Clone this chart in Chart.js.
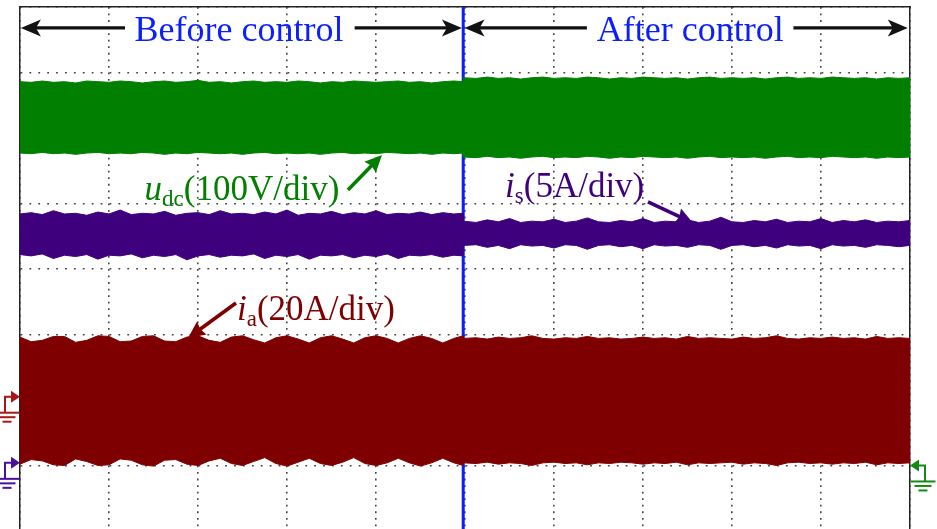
<!DOCTYPE html>
<html>
<head>
<meta charset="utf-8">
<title>Before / after control</title>
<script src="https://cdn.jsdelivr.net/npm/chart.js@4.4.1/dist/chart.umd.min.js"></script>
<style>
  html, body { margin: 0; padding: 0; background: #fff; overflow: hidden; }
  canvas { display: block; }
</style>
</head>
<body>
<canvas id="scope" width="937" height="529"></canvas>
<script>
// time axis in scope divisions (10 div across), value axis in divisions (8 div, 0 = centre)
const controlInstant = 4.98;

const timeBefore = [0, 0.125, 0.25, 0.375, 0.5, 0.625, 0.75, 0.875, 1, 1.125,
  1.25, 1.375, 1.5, 1.625, 1.75, 1.875, 2, 2.125, 2.25, 2.375,
  2.5, 2.625, 2.75, 2.875, 3, 3.125, 3.25, 3.375, 3.5, 3.625,
  3.75, 3.875, 4, 4.125, 4.25, 4.375, 4.5, 4.625, 4.75, 4.875, 4.98];
const timeAfter = [4.98, 5.125, 5.25, 5.375, 5.5, 5.625, 5.75, 5.875, 6, 6.125,
  6.25, 6.375, 6.5, 6.625, 6.75, 6.875, 7, 7.125, 7.25, 7.375,
  7.5, 7.625, 7.75, 7.875, 8, 8.125, 8.25, 8.375, 8.5, 8.625,
  8.75, 8.875, 9, 9.125, 9.25, 9.375, 9.5, 9.625, 9.75, 9.875, 10];

// u_dc envelope (100V/div)
const udcTopBefore = [2.86, 2.85, 2.87, 2.85, 2.86, 2.84, 2.87, 2.86, 2.85, 2.87,
  2.86, 2.84, 2.86, 2.87, 2.85, 2.86, 2.88, 2.85, 2.86, 2.84,
  2.86, 2.87, 2.85, 2.86, 2.85, 2.87, 2.86, 2.84, 2.86, 2.85,
  2.87, 2.86, 2.85, 2.86, 2.87, 2.85, 2.86, 2.84, 2.86, 2.87, 2.86];
const udcBotBefore = [1.77, 1.76, 1.78, 1.76, 1.77, 1.75, 1.77, 1.78, 1.76, 1.77,
  1.76, 1.78, 1.77, 1.75, 1.77, 1.76, 1.78, 1.77, 1.76, 1.77,
  1.75, 1.77, 1.78, 1.76, 1.77, 1.76, 1.77, 1.75, 1.77, 1.78,
  1.76, 1.77, 1.76, 1.78, 1.77, 1.76, 1.77, 1.75, 1.77, 1.76, 1.77];
const udcTopAfter = [2.92, 2.91, 2.93, 2.91, 2.92, 2.90, 2.92, 2.93, 2.91, 2.92,
  2.91, 2.93, 2.92, 2.90, 2.92, 2.91, 2.93, 2.92, 2.91, 2.92,
  2.90, 2.92, 2.93, 2.91, 2.92, 2.91, 2.92, 2.90, 2.92, 2.93,
  2.91, 2.92, 2.91, 2.93, 2.92, 2.91, 2.92, 2.90, 2.92, 2.91, 2.92];
const udcBotAfter = [1.71, 1.70, 1.72, 1.70, 1.71, 1.69, 1.71, 1.72, 1.70, 1.71,
  1.70, 1.72, 1.71, 1.69, 1.71, 1.70, 1.72, 1.71, 1.70, 1.71,
  1.69, 1.71, 1.72, 1.70, 1.71, 1.70, 1.71, 1.69, 1.71, 1.72,
  1.70, 1.71, 1.70, 1.72, 1.71, 1.70, 1.71, 1.69, 1.71, 1.70, 1.71];

// i_s envelope (5A/div)
const isTopBefore = [0.84, 0.86, 0.83, 0.89, 0.84, 0.85, 0.82, 0.87, 0.84, 0.90,
  0.83, 0.85, 0.84, 0.88, 0.82, 0.85, 0.86, 0.83, 0.89, 0.84,
  0.85, 0.83, 0.87, 0.84, 0.90, 0.82, 0.85, 0.84, 0.88, 0.83,
  0.86, 0.84, 0.89, 0.83, 0.85, 0.84, 0.87, 0.83, 0.86, 0.84, 0.85];
const isBotBefore = [0.22, 0.20, 0.23, 0.16, 0.21, 0.19, 0.22, 0.15, 0.21, 0.20,
  0.23, 0.17, 0.21, 0.19, 0.22, 0.14, 0.20, 0.22, 0.18, 0.21,
  0.20, 0.23, 0.16, 0.21, 0.19, 0.22, 0.15, 0.21, 0.20, 0.22,
  0.17, 0.21, 0.19, 0.23, 0.16, 0.21, 0.20, 0.22, 0.18, 0.21, 0.20];
const isTopAfter = [0.73, 0.71, 0.75, 0.72, 0.77, 0.71, 0.73, 0.72, 0.76, 0.71,
  0.73, 0.78, 0.72, 0.71, 0.74, 0.72, 0.77, 0.71, 0.73, 0.72,
  0.75, 0.71, 0.73, 0.79, 0.72, 0.71, 0.74, 0.72, 0.76, 0.71,
  0.73, 0.72, 0.77, 0.71, 0.74, 0.72, 0.75, 0.71, 0.73, 0.72, 0.74];
const isBotAfter = [0.36, 0.37, 0.33, 0.36, 0.31, 0.37, 0.35, 0.36, 0.32, 0.37,
  0.36, 0.30, 0.36, 0.37, 0.34, 0.36, 0.31, 0.37, 0.35, 0.36,
  0.33, 0.37, 0.36, 0.30, 0.36, 0.37, 0.34, 0.36, 0.32, 0.37,
  0.35, 0.36, 0.31, 0.37, 0.35, 0.36, 0.33, 0.37, 0.36, 0.34, 0.36];

// i_a envelope (20A/div) - scalloped before control
const iaTopBefore = [-1.04, -1.11, -1.09, -1.03, -1.03, -1.12, -1.09, -1.02, -1.03, -1.11,
  -1.10, -1.03, -1.02, -1.10, -1.11, -1.04, -1.02, -1.09, -1.12, -1.04,
  -1.02, -1.08, -1.13, -1.05, -1.02, -1.07, -1.13, -1.05, -1.02, -1.07,
  -1.13, -1.05, -1.02, -1.06, -1.13, -1.06, -1.02, -1.06, -1.13, -1.06, -1.02];
const iaBotBefore = [-2.98, -2.91, -2.93, -2.99, -3.00, -2.90, -2.94, -3.00, -2.99, -2.90,
  -2.92, -2.99, -3.01, -2.92, -2.91, -2.98, -3.00, -2.93, -2.89, -2.97,
  -3.00, -2.94, -2.88, -2.97, -3.01, -2.95, -2.89, -2.97, -3.00, -2.95,
  -2.88, -2.97, -3.00, -2.96, -2.89, -2.96, -3.01, -2.96, -2.89, -2.96, -3.00];
const iaTopAfter = [-1.06, -1.05, -1.07, -1.04, -1.06, -1.05, -1.02, -1.06, -1.07, -1.05,
  -1.06, -1.03, -1.06, -1.05, -1.07, -1.06, -1.04, -1.06, -1.05, -1.07,
  -1.03, -1.06, -1.05, -1.06, -1.07, -1.04, -1.06, -1.05, -1.02, -1.06,
  -1.07, -1.05, -1.06, -1.04, -1.06, -1.05, -1.07, -1.03, -1.06, -1.05, -1.06];
const iaBotAfter = [-2.96, -2.97, -2.95, -2.98, -2.96, -2.97, -3.00, -2.96, -2.95, -2.97,
  -2.96, -2.99, -2.96, -2.97, -2.95, -2.96, -2.98, -2.96, -2.97, -2.95,
  -2.99, -2.96, -2.97, -2.96, -2.95, -2.98, -2.96, -2.97, -3.00, -2.96,
  -2.95, -2.97, -2.96, -2.98, -2.96, -2.97, -2.95, -2.99, -2.96, -2.97, -2.96];

const colors = { udc: '#007f00', is: '#3f007d', ia: '#7f0000', cut: '#0a1eff', ink: '#111' };
const serif = "'Liberation Serif', 'Times New Roman', serif";

const yMin = -3.97, yMax = 4;

function trace(times, before, timesB, after) {
  return times.map((t, i) => ({ x: t, y: before[i] })).concat(timesB.map((t, i) => ({ x: t, y: after[i] })));
}

function band(label, color, top, bottom) {
  return [
    { label: label, data: top, borderColor: color, backgroundColor: color, borderWidth: 1, pointRadius: 0, tension: 0, fill: '+1' },
    { label: label + ' low', data: bottom, borderColor: color, borderWidth: 1, pointRadius: 0, tension: 0, fill: false }
  ];
}

// text labels / arrows, placed in data units
const titles = [
  { text: 'Before control', x: 2.46, y: 3.48 },
  { text: 'After control', x: 7.53, y: 3.48 }
];
const spanArrows = [
  { x1: 1.18, x2: 0.01, y: 3.68 }, { x1: 3.76, x2: 4.965, y: 3.68 },
  { x1: 6.37, x2: 4.995, y: 3.68 }, { x1: 8.69, x2: 9.975, y: 3.68 }
];
const labels = [
  { parts: ['u', 'dc', '(100V/div)'], x: 1.40, y: 1.053, color: colors.udc },
  { parts: ['i', 's', '(5A/div)'], x: 5.45, y: 1.099, color: colors.is },
  { parts: ['i', 'a', '(20A/div)'], x: 2.438, y: -0.779, color: colors.ia }
];
const pointers = [
  { x1: 3.685, y1: 1.206, x2: 4.067, y2: 1.740, color: colors.udc },
  { x1: 7.056, y1: 1.023, x2: 7.562, y2: 0.702, color: colors.is },
  { x1: 2.427, y1: -0.519, x2: 1.888, y2: -1.053, color: colors.ia }
];
const grounds = [
  { x: 0, y: -1.95, color: '#a81818', dir: 1 },
  { x: 0, y: -2.96, color: '#4a10a0', dir: 1 },
  { x: 10, y: -3.0, color: '#148a14', dir: -1 }
];

function head(ctx, x1, y1, x2, y2, len, half, notch) {
  const a = Math.atan2(y2 - y1, x2 - x1);
  ctx.save();
  ctx.translate(x2, y2);
  ctx.rotate(a);
  ctx.beginPath();
  ctx.moveTo(0, 0);
  ctx.lineTo(-len, -half);
  ctx.lineTo(-len + notch, 0);
  ctx.lineTo(-len, half);
  ctx.closePath();
  ctx.fill();
  ctx.restore();
}

function arrow(ctx, x1, y1, x2, y2, color, width, len, half, notch) {
  const d = Math.hypot(x2 - x1, y2 - y1);
  const k = (d - len * 0.6) / d;
  ctx.strokeStyle = color;
  ctx.fillStyle = color;
  ctx.lineWidth = width;
  ctx.beginPath();
  ctx.moveTo(x1, y1);
  ctx.lineTo(x1 + (x2 - x1) * k, y1 + (y2 - y1) * k);
  ctx.stroke();
  head(ctx, x1, y1, x2, y2, len, half, notch);
}

const overlay = {
  id: 'overlay',
  afterDatasetsDraw(chart) {
    const { ctx } = chart;
    const sx = chart.scales.x, sy = chart.scales.y;
    ctx.save();
    ctx.textBaseline = 'alphabetic';

    ctx.font = '36px ' + serif;
    ctx.fillStyle = colors.cut;
    ctx.textAlign = 'center';
    titles.forEach(t => ctx.fillText(t.text, sx.getPixelForValue(t.x), sy.getPixelForValue(t.y)));

    spanArrows.forEach(a => {
      const py = sy.getPixelForValue(a.y);
      arrow(ctx, sx.getPixelForValue(a.x1), py, sx.getPixelForValue(a.x2), py, colors.ink, 3.2, 20, 8.5, 5);
    });

    ctx.textAlign = 'left';
    labels.forEach(l => {
      let px = sx.getPixelForValue(l.x);
      const py = sy.getPixelForValue(l.y);
      ctx.fillStyle = l.color;
      ctx.font = 'italic 35px ' + serif;
      ctx.fillText(l.parts[0], px, py);
      px += ctx.measureText(l.parts[0]).width;
      ctx.font = '23px ' + serif;
      ctx.fillText(l.parts[1], px, py + 6);
      px += ctx.measureText(l.parts[1]).width;
      ctx.font = '35px ' + serif;
      ctx.fillText(l.parts[2], px, py);
    });

    pointers.forEach(p => arrow(ctx, sx.getPixelForValue(p.x1), sy.getPixelForValue(p.y1),
      sx.getPixelForValue(p.x2), sy.getPixelForValue(p.y2), p.color, 3.6, 17, 8, 2));

    grounds.forEach(g => {
      const px = sx.getPixelForValue(g.x), py = sy.getPixelForValue(g.y), d = g.dir;
      ctx.fillStyle = g.color;
      ctx.strokeStyle = g.color;
      ctx.lineWidth = 2;
      ctx.beginPath();
      ctx.moveTo(px, py);
      ctx.lineTo(px - d * 9, py - 6);
      ctx.lineTo(px - d * 9, py + 6);
      ctx.closePath();
      ctx.fill();
      ctx.beginPath();
      ctx.moveTo(px - d * 9, py);
      ctx.lineTo(px - d * 15, py);
      ctx.lineTo(px - d * 15, py + 16);
      ctx.stroke();
      const cx = px - d * 13;
      [[16, 25], [20.5, 17], [25, 9]].forEach(([dy, w]) => {
        ctx.beginPath();
        ctx.moveTo(cx - w / 2, py + dy);
        ctx.lineTo(cx + w / 2, py + dy);
        ctx.stroke();
      });
    });
    ctx.restore();
  }
};

new Chart(document.getElementById('scope'), {
  type: 'line',
  data: {
    datasets: [
      ...band('u_dc', colors.udc, trace(timeBefore, udcTopBefore, timeAfter, udcTopAfter), trace(timeBefore, udcBotBefore, timeAfter, udcBotAfter)),
      ...band('i_s', colors.is, trace(timeBefore, isTopBefore, timeAfter, isTopAfter), trace(timeBefore, isBotBefore, timeAfter, isBotAfter)),
      ...band('i_a', colors.ia, trace(timeBefore, iaTopBefore, timeAfter, iaTopAfter), trace(timeBefore, iaBotBefore, timeAfter, iaBotAfter)),
      { label: 'control', data: [{ x: controlInstant, y: yMin }, { x: controlInstant, y: yMax }],
        borderColor: colors.cut, borderWidth: 3, pointRadius: 0, fill: false }
    ]
  },
  options: {
    responsive: false,
    animation: false,
    events: [],
    layout: { padding: { left: 20, right: 27, top: 7, bottom: 0 } },
    plugins: { legend: { display: false }, tooltip: { enabled: false } },
    scales: {
      x: {
        type: 'linear', min: 0, max: 10,
        ticks: { display: false, stepSize: 1 },
        grid: { color: '#444', lineWidth: 1.6, drawTicks: false },
        border: { display: false, dash: [1.8, 4.75] }
      },
      y: {
        type: 'linear', min: yMin, max: yMax,
        ticks: { display: false, stepSize: 1, includeBounds: false },
        grid: { color: '#444', lineWidth: 1.6, drawTicks: false },
        border: { display: true, color: '#222', width: 1.5, dash: [1.8, 7.1] }
      },
      xTop: {
        axis: 'x', type: 'linear', position: 'top',
        ticks: { display: false }, grid: { display: false, drawTicks: false },
        border: { display: true, color: '#222', width: 1.5 }
      },
      yRight: {
        axis: 'y', type: 'linear', position: 'right',
        ticks: { display: false }, grid: { display: false, drawTicks: false },
        border: { display: true, color: '#222', width: 1.5 }
      }
    }
  },
  plugins: [overlay]
});
</script>
</body>
</html>
